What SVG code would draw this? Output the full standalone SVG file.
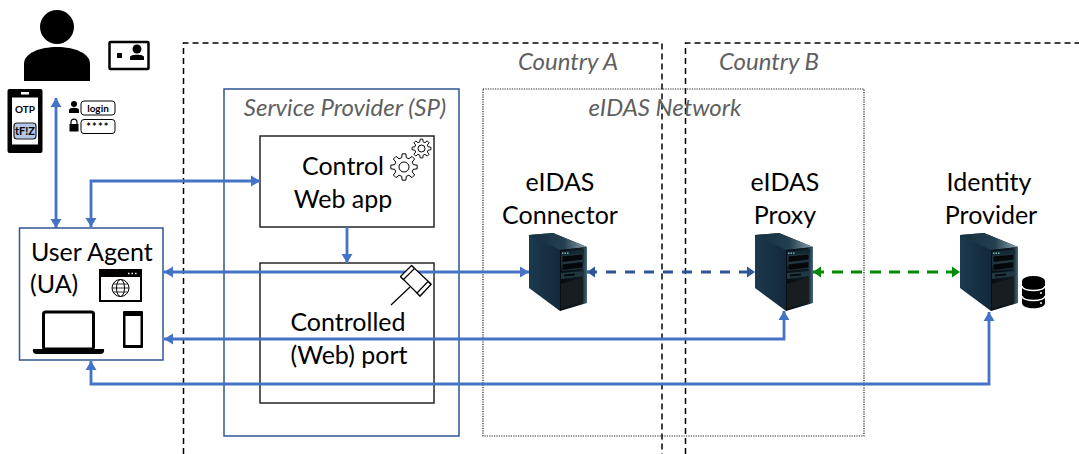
<svg xmlns="http://www.w3.org/2000/svg" width="1079" height="454" viewBox="0 0 1079 454">
<style>
text{font-family:Lato,"Liberation Sans",sans-serif;fill:#000}
.t{font-size:25px;text-anchor:middle}
.c{font-size:24px;font-style:italic;fill:#5f5f5f;text-anchor:middle}
.b{fill:#fff;stroke:#262626;stroke-width:1.500}
.l{fill:none;stroke:#4472c4;stroke-width:2.800}
.k{fill:#000}
.o{fill:none;stroke:#000}
.dash{fill:none;stroke:#000;stroke-width:1.500;stroke-dasharray:6 4}
.gear{fill:#fff;stroke:#000;stroke-linejoin:round}
</style>
<defs>
<marker id="a" markerUnits="userSpaceOnUse" markerWidth="11" markerHeight="12" refX="9" refY="6" orient="auto-start-reverse"><path d="M0 0.500L9 6L0 11.500z" fill="#4472c4"/></marker>
<marker id="d" markerUnits="userSpaceOnUse" markerWidth="11" markerHeight="12" refX="8" refY="6" orient="auto-start-reverse"><path d="M0 0.500L8 6L0 11.500z" fill="#2f5597"/></marker>
<marker id="g" markerUnits="userSpaceOnUse" markerWidth="11" markerHeight="12" refX="8" refY="6" orient="auto-start-reverse"><path d="M0 0.500L8 6L0 11.500z" fill="#008a00"/></marker>
<linearGradient id="s1" x1="0" x2="1" y1="0" y2="0"><stop offset="0" stop-color="#1c394d"/><stop offset="0.55" stop-color="#12283a"/><stop offset="1" stop-color="#050e15"/></linearGradient>
<linearGradient id="st" x1="0" x2="1" y1="0" y2="0"><stop offset="0" stop-color="#14303f"/><stop offset="0.6" stop-color="#243f50"/><stop offset="1" stop-color="#90a6b2"/></linearGradient>
<linearGradient id="s2" x1="0" x2="1" y1="0" y2="0"><stop offset="0" stop-color="#060c11"/><stop offset="0.8" stop-color="#101c24"/><stop offset="1" stop-color="#456a7e"/></linearGradient>
<polygon id="gearshape" points="6.990,-1.740 9.900,-1.390 9.900,1.390 6.990,1.740 6.170,3.710 7.980,6.020 6.020,7.980 3.710,6.170 1.740,6.990 1.390,9.900 -1.390,9.900 -1.740,6.990 -3.710,6.170 -6.020,7.980 -7.980,6.020 -6.170,3.710 -6.990,1.740 -9.900,1.390 -9.900,-1.390 -6.990,-1.740 -6.170,-3.710 -7.980,-6.020 -6.020,-7.980 -3.710,-6.170 -1.740,-6.990 -1.390,-9.900 1.390,-9.900 1.740,-6.990 3.710,-6.170 6.020,-7.980 7.980,-6.020 6.170,-3.710"/>
<symbol id="server" viewBox="0 0 60 80" width="60" height="80" overflow="visible">
<path d="M0 2L24 0L58 14L31 78L0 55z" fill="url(#s1)"/>
<path d="M0 2L24 0L58 14L31 17z" fill="url(#st)"/>
<path d="M31 17L58 14L58 70L31 78z" fill="url(#s2)"/>
<path d="M32 18.500L55 16.500V30L32 33z" fill="#142934"/>
<path d="M33 23L54 21V27L33 29.500zM33 31L54 28.500V35L33 37.500z" fill="#04080b" stroke="#3d5968" stroke-width=".5"/>
<path d="M32 40L55 38V43L32 46z" fill="#213843"/>
<path d="M35 41.500L46 40.500V42.500L35 43.500z" fill="#050a0d"/>
<path d="M32 51L54 44V69L32 76z" fill="#181d20"/>
<path d="M33 20.300h7" stroke="#73b3ad" stroke-width="1.500" stroke-dasharray="1.500 1"/>
</symbol>
</defs>
<g id="country-a"><path class="dash" d="M183.500 454V43H662V454"/><text class="c" x="568" y="70">Country A</text></g>
<g id="country-b"><path class="dash" d="M685.500 454V43H1079"/><text class="c" x="769" y="70">Country B</text></g>
<g id="sp"><rect x="224" y="89" width="235" height="347" fill="none" stroke="#2f5597" stroke-width="1.500"/><text class="c" x="345" y="116">Service Provider (SP)</text></g>
<g id="eidas-network"><rect x="483" y="89" width="381" height="347" fill="none" stroke="#222" stroke-width="1.200" stroke-dasharray="1.200 1.200"/><text class="c" x="665" y="116">eIDAS Network</text></g>
<g id="control-web-app"><rect class="b" x="260" y="136" width="174" height="91"/><text class="t" x="343" y="175">Control</text><text class="t" x="343" y="208">Web app</text>
<use href="#gearshape" class="gear" transform="translate(404 167) scale(1.330)" stroke-width=".75"/><circle cx="404" cy="167" r="5" class="o"/>
<use href="#gearshape" class="gear" transform="translate(421.500 148.500) scale(.95)" stroke-width="1"/><circle cx="421.500" cy="148.500" r="3.500" class="o"/></g>
<g id="controlled-port"><rect class="b" x="260" y="263" width="174" height="140"/><text class="t" x="348" y="331">Controlled</text><text class="t" x="349" y="364">(Web) port</text></g>
<g id="connectors">
<path class="l" marker-start="url(#a)" marker-end="url(#a)" d="M56 98V228"/>
<path class="l" marker-start="url(#a)" marker-end="url(#a)" d="M91 227V181H260"/>
<path class="l" marker-end="url(#a)" d="M347 227V263"/>
<path class="l" marker-start="url(#a)" marker-end="url(#a)" d="M164 272H529"/>
<path class="l" marker-start="url(#a)" marker-end="url(#a)" d="M164 339H784V311"/>
<path class="l" marker-start="url(#a)" marker-end="url(#a)" d="M91 361V384H989V312"/>
<path fill="none" stroke="#2f5597" stroke-width="2.800" stroke-dasharray="10 9" marker-start="url(#d)" marker-end="url(#d)" d="M587 272H755"/>
<path fill="none" stroke="#008a00" stroke-width="2.800" stroke-dasharray="11 8" marker-start="url(#g)" marker-end="url(#g)" d="M813 272H960"/>
</g>
<g id="gavel"><g fill="#fff" stroke="#000" stroke-width="1.200" stroke-linejoin="round"><path d="M401 277L412 266L431 284L420 296z"/><path d="M400.500 276.500L411.500 265.500L414.500 268.500L403.500 279.500z"/><path d="M417 293L428 281.500L431 284.500L420 296z"/></g><path d="M391 305L410 287" stroke="#000" stroke-width="1.200"/></g>
<g id="person"><circle cx="57" cy="27" r="17" class="k"/><path d="M24 81V64C24 53 40 47 57 47S90 53 90 64V81z" class="k"/></g>
<g id="id-card"><rect x="109.500" y="42" width="39" height="27" rx="1" fill="#fff" stroke="#000" stroke-width="2.500"/><rect x="117" y="53" width="5" height="5" class="k"/><circle cx="137" cy="49" r="4.500" class="k"/><path d="M130 60V57C130 54 144 54 144 57V60z" class="k"/></g>
<g id="phone-otp"><rect x="7.500" y="89" width="35" height="64" rx="2" class="k"/><rect x="12" y="97.500" width="26" height="47" fill="#fff"/><rect x="21" y="92" width="8" height="2.500" fill="#fff"/><text x="25" y="113" font-size="10" font-weight="700" text-anchor="middle">OTP</text><rect x="14" y="123" width="22" height="16" rx="3" fill="#b4c7e7" stroke="#222" stroke-width="1.200"/><text x="25" y="135" font-size="11" font-weight="700" text-anchor="middle">tF!Z</text></g>
<g id="credentials"><circle cx="74" cy="104" r="3" class="k"/><path d="M69 113V110C69 107 79 107 79 110V113z" class="k"/><rect x="81" y="101" width="34" height="14" rx="3" fill="#fff" stroke="#000"/><text x="98" y="111.500" font-size="10" font-weight="700" text-anchor="middle">login</text>
<path d="M71 124V122.500C71 118 77 118 77 122.500V124" fill="none" stroke="#000" stroke-width="1.200"/><rect x="69.500" y="124" width="9" height="7.500" class="k"/><rect x="81" y="119.500" width="34" height="14" rx="3" fill="#fff" stroke="#000"/><text x="98" y="131" font-size="11" font-weight="700" letter-spacing="1.200" text-anchor="middle">****</text></g>
<g id="user-agent"><rect x="19.500" y="228" width="143.500" height="132" fill="#fff" stroke="#2f5597" stroke-width="1.500"/><text x="31" y="261" font-size="25">User Agent</text><text x="30" y="293" font-size="25">(UA)</text>
<rect x="100" y="270" width="41" height="31" fill="#fff" stroke="#000" stroke-width="2"/><rect x="100" y="270" width="41" height="7" class="k"/><path d="M128 273.500h1.500M131.500 273.500h1.500M135 273.500h1.500" stroke="#fff" stroke-width="1.500"/><circle cx="120.500" cy="288" r="8.500" class="o"/><ellipse cx="120.500" cy="288" rx="4" ry="8.500" class="o"/><path d="M112 288H129M113 284H128M113 292H128" class="o" stroke-width=".8"/>
<rect x="43.500" y="312" width="50" height="37" rx="2" fill="#fff" stroke="#000" stroke-width="3"/><path d="M33 349H104Q105 354 100 354H37Q32 354 33 349z" class="k"/>
<rect x="123" y="311" width="20" height="37" rx="1" class="k"/><rect x="125.500" y="316" width="15" height="29" fill="#fff"/></g>
<g id="eidas-connector"><text class="t" x="560" y="191">eIDAS</text><text class="t" x="560" y="224">Connector</text><use href="#server" x="529" y="233"/></g>
<g id="eidas-proxy"><text class="t" x="785" y="191">eIDAS</text><text class="t" x="785" y="224">Proxy</text><use href="#server" x="755" y="233"/></g>
<g id="identity-provider"><text class="t" x="989" y="191">Identity</text><text class="t" x="991" y="224">Provider</text><use href="#server" x="960" y="233"/>
<g id="database"><path d="M1022 281V303C1022 310 1045 310 1045 303V281z" class="k"/><ellipse cx="1033.500" cy="281" rx="11.500" ry="5" class="k"/><path d="M1022 286C1022 292 1045 292 1045 286M1022 296C1022 302 1045 302 1045 296" fill="none" stroke="#fff" stroke-width="1.500"/><circle cx="1041" cy="293" r="1" fill="#fff"/><circle cx="1041" cy="303" r="1" fill="#fff"/></g></g>
</svg>
